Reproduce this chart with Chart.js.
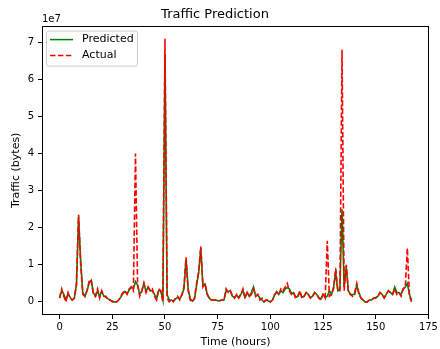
<!DOCTYPE html>
<html>
<head>
<meta charset="utf-8">
<script src="https://cdn.jsdelivr.net/npm/chart.js@4"></script>
<style>
html,body{margin:0;padding:0;background:#fff;}
#wrap{width:440px;height:349px;}
</style>
</head>
<body>
<div id="wrap"><canvas id="c" width="440" height="349"></canvas></div>
<script>
// Hours (x) and traffic values in units of 1e7 bytes
const hours = [];
for (let h = 0; h <= 167; h++) hours.push(h);

const actual = [
0.10,0.35,0.15,0.00,0.25,0.10,0.05,0.10,0.50,2.35,
1.00,0.20,0.15,0.30,0.55,0.60,0.20,0.15,0.35,0.10,
0.30,0.15,0.15,0.05,0.05,0.00,0.00,0.00,0.05,0.15,
0.25,0.30,0.20,0.35,0.40,0.30,4.00,0.50,0.15,0.30,
0.50,0.25,0.40,0.30,0.35,0.15,0.05,0.35,0.30,0.00,
7.10,0.10,0.00,0.05,0.00,0.10,0.15,0.05,0.20,0.40,
1.20,0.30,0.05,0.00,0.10,0.50,0.80,1.50,0.40,0.50,
0.20,0.10,0.05,0.05,0.05,0.05,0.03,0.05,0.05,0.35,
0.25,0.30,0.15,0.10,0.20,0.10,0.20,0.35,0.10,0.25,
0.15,0.20,0.35,0.15,0.20,0.05,0.10,0.00,0.05,0.05,
0.00,0.05,0.20,0.25,0.20,0.35,0.30,0.40,0.50,0.30,
0.20,0.25,0.10,0.15,0.30,0.10,0.15,0.25,0.20,0.10,
0.15,0.25,0.20,0.10,0.05,0.20,0.10,1.65,0.15,0.20,
0.35,0.90,0.30,0.30,6.80,0.30,1.00,0.30,0.20,0.15,
0.25,0.50,0.20,0.10,0.05,0.00,0.00,0.05,0.05,0.10,
0.10,0.15,0.25,0.20,0.10,0.20,0.30,0.25,0.20,0.35,
0.20,0.25,0.15,0.35,0.40,1.45,0.15,0.00
];

const predicted = [
0.12,0.30,0.20,0.05,0.22,0.12,0.05,0.10,0.45,2.30,
1.10,0.25,0.15,0.30,0.50,0.58,0.25,0.15,0.30,0.15,
0.28,0.15,0.12,0.08,0.05,0.02,0.00,0.00,0.05,0.12,
0.22,0.28,0.22,0.32,0.40,0.35,0.55,0.45,0.20,0.28,
0.50,0.28,0.40,0.30,0.30,0.20,0.08,0.30,0.30,0.05,
6.70,0.20,0.05,0.05,0.02,0.08,0.12,0.08,0.18,0.35,
1.15,0.35,0.08,0.02,0.08,0.45,0.80,1.45,0.45,0.48,
0.22,0.10,0.05,0.05,0.05,0.03,0.03,0.05,0.05,0.30,
0.28,0.30,0.15,0.12,0.18,0.12,0.20,0.30,0.12,0.25,
0.15,0.25,0.40,0.15,0.20,0.10,0.05,0.00,0.05,0.02,
0.00,0.05,0.18,0.28,0.20,0.30,0.25,0.35,0.38,0.35,
0.22,0.25,0.12,0.15,0.25,0.12,0.15,0.25,0.20,0.12,
0.15,0.25,0.20,0.12,0.08,0.20,0.12,0.15,0.30,0.20,
0.40,0.80,0.30,0.35,2.50,0.40,0.95,0.30,0.20,0.20,
0.20,0.45,0.25,0.10,0.05,0.00,0.00,0.05,0.05,0.10,
0.12,0.15,0.25,0.20,0.12,0.20,0.30,0.25,0.20,0.40,
0.25,0.25,0.20,0.35,0.40,0.50,0.20,0.05
];

const xTicks = [0,25,50,75,100,125,150,175];
const yTicks = [0,1,2,3,4,5,6,7];

const FONT = "'DejaVu Sans', sans-serif";

const framePlugin = {
  id: 'frame',
  afterDraw(chart) {
    const {ctx, chartArea: a} = chart;
    ctx.save();
    ctx.strokeStyle = '#000';
    ctx.lineWidth = 1;
    ctx.strokeRect(Math.round(a.left)+0.5, Math.round(a.top)+0.5, Math.round(a.right-a.left)-1, Math.round(a.bottom-a.top)-1);
    // offset label
    ctx.fillStyle = '#000';
    ctx.font = "10px " + FONT;
    ctx.textAlign = 'left';
    ctx.textBaseline = 'alphabetic';
    ctx.fillText('1e7', a.left, a.top - 4);
    // legend
    const lx = a.left + 4, ly = a.top + 5, lw = 91, lh = 35;
    ctx.fillStyle = 'rgba(255,255,255,0.8)';
    ctx.strokeStyle = '#cccccc';
    ctx.beginPath();
    if (ctx.roundRect) ctx.roundRect(lx+0.5, ly+0.5, lw, lh, 2); else ctx.rect(lx+0.5, ly+0.5, lw, lh);
    ctx.fill(); ctx.stroke();
    const items = [
      {label: chart.data.datasets[1].label, color: '#008000', dash: []},
      {label: chart.data.datasets[0].label, color: '#ff0000', dash: [5.5, 2.4]}
    ];
    items.forEach((it, i) => {
      const y = ly + 9 + i * 16;
      ctx.strokeStyle = it.color;
      ctx.lineWidth = 1.5;
      ctx.setLineDash(it.dash);
      ctx.beginPath();
      ctx.moveTo(lx + 4, y);
      ctx.lineTo(lx + 27, y);
      ctx.stroke();
      ctx.setLineDash([]);
      ctx.fillStyle = '#000';
      ctx.font = "11px " + FONT;
      ctx.textBaseline = 'middle';
      ctx.fillText(it.label, lx + 36, y);
    });
    ctx.restore();
  }
};

new Chart(document.getElementById('c'), {
  type: 'line',
  data: {
    datasets: [
      {
        label: 'Actual',
        data: hours.map((h, i) => ({x: h, y: actual[i]})),
        borderColor: '#ff0000',
        borderWidth: 1.6,
        borderDash: [5.5, 2.4],
        pointRadius: 0,
        tension: 0,
        fill: false,
        order: 0
      },
      {
        label: 'Predicted',
        data: hours.map((h, i) => ({x: h, y: predicted[i]})),
        borderColor: '#008000',
        borderWidth: 1.6,
        pointRadius: 0,
        tension: 0,
        fill: false,
        order: 1
      }
    ]
  },
  options: {
    responsive: false,
    animation: false,
    devicePixelRatio: 1,
    layout: {padding: {left: 0, right: 10, top: 0, bottom: 0}},
    plugins: {
      legend: {display: false},
      tooltip: {enabled: false},
      title: {
        display: true,
        text: 'Traffic Prediction',
        color: '#000',
        font: {family: FONT, size: 13, weight: 'normal'},
        padding: {top: 7, bottom: 3}
      }
    },
    scales: {
      x: {
        type: 'linear',
        min: -8.35,
        max: 175.35,
        afterFit(s) { s.height = 34; },
        afterBuildTicks(s) { s.ticks = xTicks.map(v => ({value: v})); },
        grid: {display: true, drawOnChartArea: false, drawTicks: true, tickLength: 4, color: '#000', tickColor: '#000'},
        border: {display: false},
        ticks: {color: '#000', font: {family: FONT, size: 10}, padding: 2, maxRotation: 0, autoSkip: false},
        title: {display: true, text: 'Time (hours)', color: '#000', font: {family: FONT, size: 11}, padding: {top: 0, bottom: 0}}
      },
      y: {
        type: 'linear',
        min: -0.355,
        max: 7.455,
        afterFit(s) { s.width = 42; },
        afterBuildTicks(s) { s.ticks = yTicks.map(v => ({value: v})); },
        grid: {display: true, drawOnChartArea: false, drawTicks: true, tickLength: 4, color: '#000', tickColor: '#000'},
        border: {display: false},
        ticks: {color: '#000', font: {family: FONT, size: 10}, padding: 4, autoSkip: false},
        title: {display: true, text: 'Traffic (bytes)', color: '#000', font: {family: FONT, size: 11}, padding: {top: 10, bottom: 0}}
      }
    }
  },
  plugins: [framePlugin]
});
</script>
</body>
</html>
